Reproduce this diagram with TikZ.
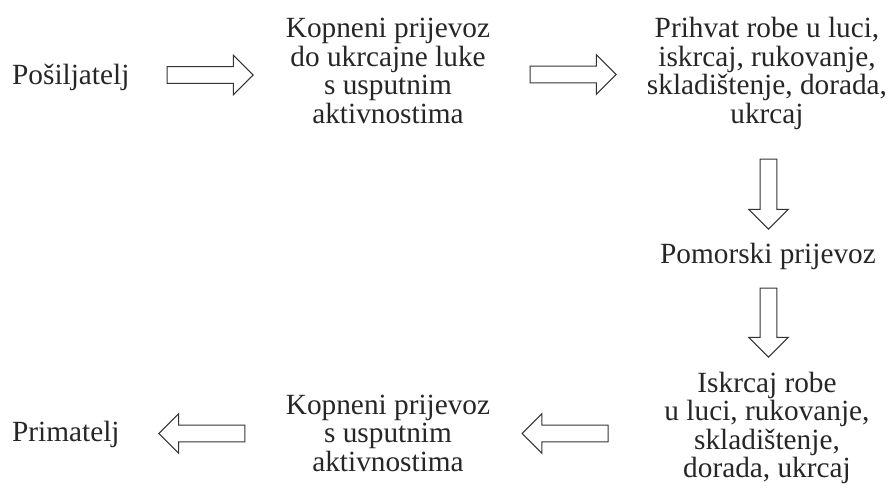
\documentclass[tikz,border=0pt]{standalone}
\usepackage{fontspec}
\setmainfont{Liberation Serif}
\usetikzlibrary{shapes.arrows}
\tikzstyle{stage}=[align=center, inner sep=0pt, anchor=base, font=\fontsize{29.3}{28.5}\selectfont, text=black!85]
\tikzstyle{bigarrow}=[single arrow, draw=black!80, line width=1pt, inner sep=7.8pt, single arrow head extend=11.5pt, minimum height=86pt]

\begin{document}
\begin{tikzpicture}[x=1pt,y=-1pt]
                    \useasboundingbox (0,0) rectangle (891,494);

                    % base of a multi-line stage is its last line
                    \node[stage, anchor=base west] (send) at (12,85) {Pošiljatelj};
                    \node[stage] (land1) at (388,123.5) {Kopneni prijevoz\\do ukrcajne luke\\s usputnim\\aktivnostima};
                    \node[stage] (port1) at (767,123.5) {Prihvat robe u luci,\\iskrcaj, rukovanje,\\skladištenje, dorada,\\ukrcaj};
                    \node[stage] (sea) at (768,264) {Pomorski prijevoz};
                    \node[stage] (port2) at (767,477.5) {Iskrcaj robe\\u luci, rukovanje,\\skladištenje,\\dorada, ukrcaj};
                    \node[stage] (land2) at (388,471) {Kopneni prijevoz\\s usputnim\\aktivnostima};
                    \node[stage, anchor=base west] (recv) at (12,441) {Primatelj};

                    \node[bigarrow] (a1) at (206,75) {};
                    \node[bigarrow] (a2) at (569,74.5) {};
                    \node[bigarrow, rotate=-90, minimum height=70pt] (a3) at (768.5,190) {};
                    \node[bigarrow, rotate=-90, minimum height=69pt] (a4) at (768.5,318.5) {};
                    \node[bigarrow, rotate=180] (a5) at (569.3,433.5) {};
                    \node[bigarrow, rotate=180] (a6) at (206,433.5) {};
                \end{tikzpicture}
\end{document}
